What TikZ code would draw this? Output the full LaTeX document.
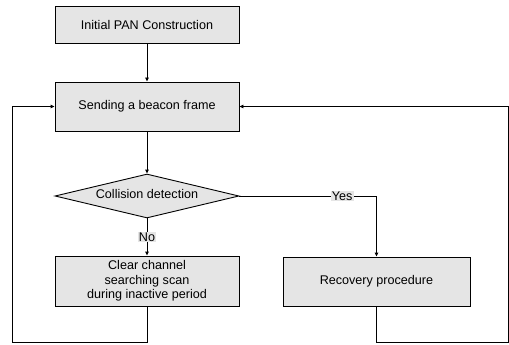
\documentclass[tikz,border=0pt]{standalone}
\usepackage{fontspec}
\setmainfont{Liberation Sans}
\usetikzlibrary{arrows.meta,shapes.geometric}
\begin{document}
\begin{tikzpicture}[x=1pt,y=-1pt,
  font=\fontsize{12.6}{14.5}\selectfont,
  every path/.style={line width=0.9pt},
  stepbox/.style={draw, fill=black!10, minimum width=184pt, minimum height=#1, inner sep=1pt, align=center},
  decision/.style={draw, fill=black!10, diamond, minimum width=184pt, minimum height=44pt, inner sep=0pt, aspect=4.2},
  lbl/.style={fill=black!10, inner sep=1pt},
  arr/.style={-{Triangle[length=4pt,width=3.5pt]}}]
\useasboundingbox (0,0) rectangle (509,345);
\node[stepbox=37pt] (init) at (147,24.5) {Initial PAN Construction};
\node[stepbox=49pt] (beacon) at (147,106.5) {Sending a beacon frame};
\node[decision] (coll) at (147,196) {};
\node at (147,194) {Collision detection};
\node[stepbox=50pt] (scan) at (147,281) {Clear channel\\searching scan\\during inactive period};
\node[stepbox=49pt, minimum width=187pt] (recov) at (376.5,281.5) {Recovery procedure};
\coordinate (bl) at (12.5,342.5);
\coordinate (br) at (508.5,342.5);
\draw[arr] (init) -- (beacon);
\draw[arr] (beacon) -- (coll.north);
\draw[arr] (coll.south) -- node[lbl, pos=0.5] (no) {No} (scan);
\draw[arr] (coll.east) -- node[lbl, pos=0.75] (yes) {Yes} (376.5,196) -- (recov.north);
\draw[arr] (scan.south) -- (scan.south |- bl) -- (bl) -- (bl |- beacon.west) -- (beacon.west);
\draw[arr] (recov.south) -- (recov.south |- br) -- (br) -- (br |- beacon.east) -- (beacon.east);
\end{tikzpicture}
\end{document}
